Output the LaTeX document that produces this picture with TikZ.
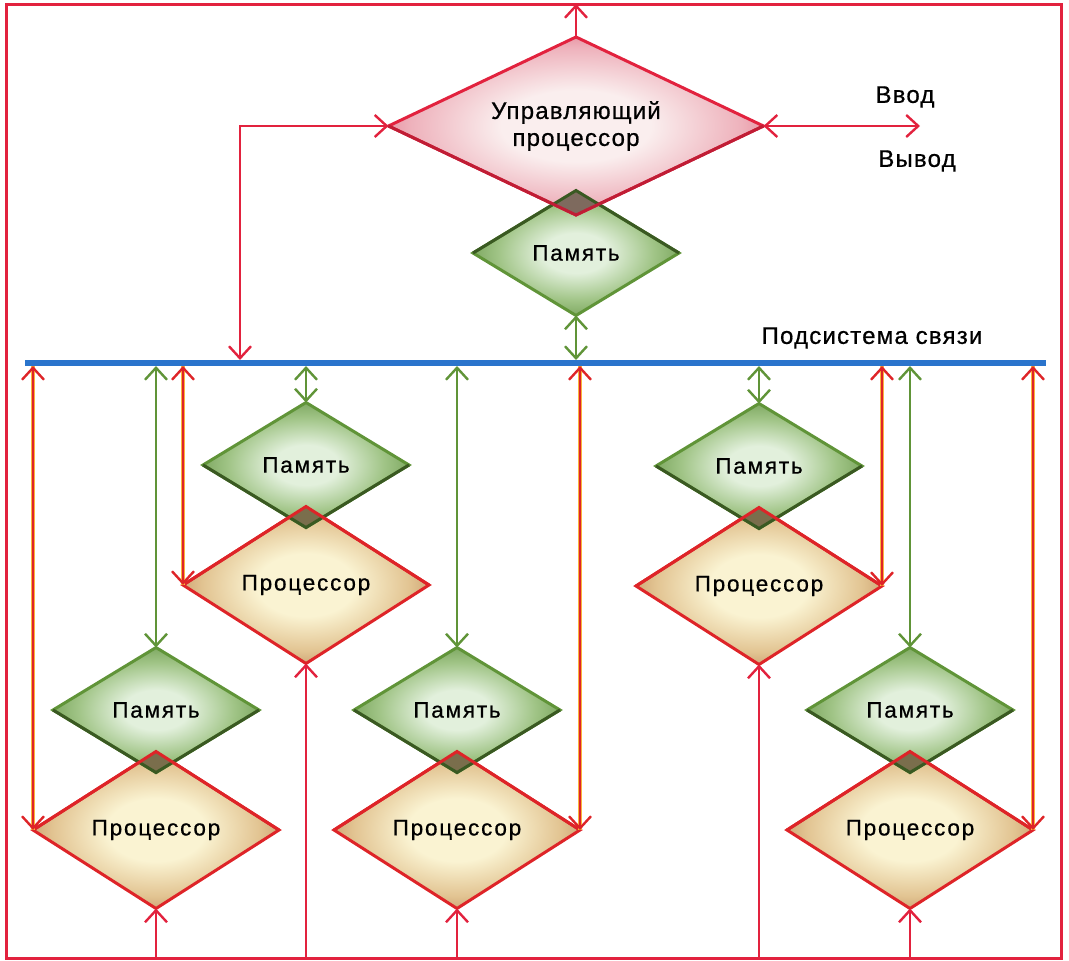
\documentclass[tikz,border=0pt]{standalone}
\usepackage{fontspec}
\setmainfont{Liberation Sans}
\newfontfamily\lblfont{Liberation Sans}[LetterSpace=8, FakeBold=0.7]
\newfontfamily\capfont{Liberation Sans}[LetterSpace=5, FakeBold=0.7]
\usetikzlibrary{positioning, arrows.meta, shapes.geometric}

\definecolor{framered}{RGB}{226,34,62}
\definecolor{procred}{RGB}{222,36,40}
\definecolor{linkyellow}{RGB}{250,180,60}
\definecolor{memgreen}{RGB}{96,148,56}
\definecolor{busblue}{RGB}{42,116,204}
\definecolor{ctlin}{RGB}{250,238,238}
\definecolor{ctlmid}{RGB}{238,178,188}
\definecolor{ctlout}{RGB}{220,96,118}
\definecolor{memin}{RGB}{226,240,220}
\definecolor{memmid}{RGB}{160,196,134}
\definecolor{memout}{RGB}{106,152,76}
\definecolor{procin}{RGB}{250,243,210}
\definecolor{procmid}{RGB}{226,196,146}
\definecolor{procout}{RGB}{184,130,82}
\definecolor{overlap}{RGB}{122,110,76}
\definecolor{overlaptop}{RGB}{126,106,94}

\pgfdeclareradialshading{ctlshade}{\pgfpoint{0bp}{0bp}}{color(0bp)=(ctlin); color(10bp)=(ctlin); color(22bp)=(ctlmid); color(32bp)=(ctlout); color(50bp)=(ctlout)}
\pgfdeclareradialshading{memshade}{\pgfpoint{0bp}{0bp}}{color(0bp)=(memin); color(8bp)=(memin); color(19bp)=(memmid); color(29bp)=(memout); color(50bp)=(memout)}
\pgfdeclareradialshading{procshade}{\pgfpoint{0bp}{0bp}}{color(0bp)=(procin); color(10bp)=(procin); color(21bp)=(procmid); color(31bp)=(procout); color(50bp)=(procout)}

\begin{document}
\begin{tikzpicture}[
    x=1pt, y=-1pt,
    >={Straight Barb[length=12pt, width=22pt, line width=2.4pt]},
    block/.style={diamond, aspect=2, inner sep=0pt, outer sep=0pt,
        line width=3pt, align=center, font=\lblfont\fontsize{22.5}{26}\selectfont},
    ctlproc/.style={block, draw=framered, shading=ctlshade,
        minimum width=375pt, minimum height=178pt,
        font=\capfont\fontsize{24}{27}\selectfont},
    proc/.style={block, draw=procred, shading=procshade,
        minimum width=246pt, minimum height=157pt},
    mem/.style={block, draw=memgreen, shading=memshade,
        minimum width=206pt, minimum height=125pt},
    caption/.style={font=\capfont\fontsize{24}{28}\selectfont},
    frameline/.style={draw=framered, line width=3pt},
    ctllink/.style={draw=framered, line width=2.5pt},
    memlink/.style={draw=memgreen, line width=2.5pt},
    proclink/.style={draw=procred, line width=1.4pt,
        preaction={draw=linkyellow, line width=3.2pt, -}},
    bus/.style={draw=busblue, line width=6pt}
]
    \useasboundingbox (0,0) rectangle (1069,961);

    % Frame corners and the bus
    \coordinate (ftl) at (6,4);
    \coordinate (fbr) at (1061,958);
    \coordinate (busl) at (25,363);
    \coordinate (busr) at (1046,363);
    \coordinate (bust) at (0,360);
    \coordinate (busb) at (0,366);
    \coordinate (tap) at (240,360);
    \coordinate (io) at (920,126);

    % Control processor with its memory
    \node[mem] (m0) at (576,253) {Память};
    \node[ctlproc] (ctl) at (576,126) {Управляющий\\процессор};
    \begin{scope}
        \clip (ctl.north) -- (ctl.east) -- (ctl.south) -- (ctl.west) -- cycle;
        \fill[overlaptop] (m0.north) -- (m0.east) -- (m0.south) -- (m0.west) -- cycle;
    \end{scope}
    \draw[memgreen!60!black, line width=3pt] (m0.west) -- (m0.north) -- (m0.east);
    \draw[framered!85!black, line width=3pt] (ctl.west) -- (ctl.south) -- (ctl.east);

    % Processor modules
    \foreach \n/\x/\y in {a/306/585, b/156/830, c/457/830, d/759/586, e/910/830} {
        \node[proc] (p\n) at (\x,\y) {Процессор};
        \node[mem] (m\n) at (\x,\y-120) {Память};
        \begin{scope}
            \clip (p\n.north) -- (p\n.east) -- (p\n.south) -- (p\n.west) -- cycle;
            \fill[overlap] (m\n.north) -- (m\n.east) -- (m\n.south) -- (m\n.west) -- cycle;
        \end{scope}
        \draw[memgreen!60!black, line width=3pt] (m\n.west) -- (m\n.south) -- (m\n.east);
        \draw[procred, line width=3pt] (p\n.west) -- (p\n.north) -- (p\n.east);
    }

    % Labels
    \node[caption] (in) at (905,97) {Ввод};
    \node[caption] (out) at (917,161) {Вывод};
    \node[caption] (buslabel) at (872,338) {Подсистема связи};

    % Control processor links
    \draw[ctllink, ->] (ctl.north) -- (ctl.north |- ftl);
    \draw[ctllink, <->] (ctl.east) -- (io);
    \draw[ctllink, <->] (ctl.west) -| (tap);
    \draw[memlink, <->] (m0.south) -- (m0.south |- bust);

    % Links between the modules and the bus
    \foreach \n in {a,b,c,d,e}
        \draw[memlink, <->] (m\n.north) -- (m\n.north |- busb);
    \draw[proclink, <->] (pa.west) -- (pa.west |- busb);
    \draw[proclink, <->] (pb.west) -- (pb.west |- busb);
    \draw[proclink, <->] (pc.east) -- (pc.east |- busb);
    \draw[proclink, <->] (pd.east) -- (pd.east |- busb);
    \draw[proclink, <->] (pe.east) -- (pe.east |- busb);

    % Feedback from every processor to the frame
    \foreach \n in {a,b,c,d,e}
        \draw[ctllink, ->] (p\n.south |- fbr) -- (p\n.south);

    \draw[bus] (busl) -- (busr);
    \draw[frameline] (ftl) rectangle (fbr);
\end{tikzpicture}
\end{document}
